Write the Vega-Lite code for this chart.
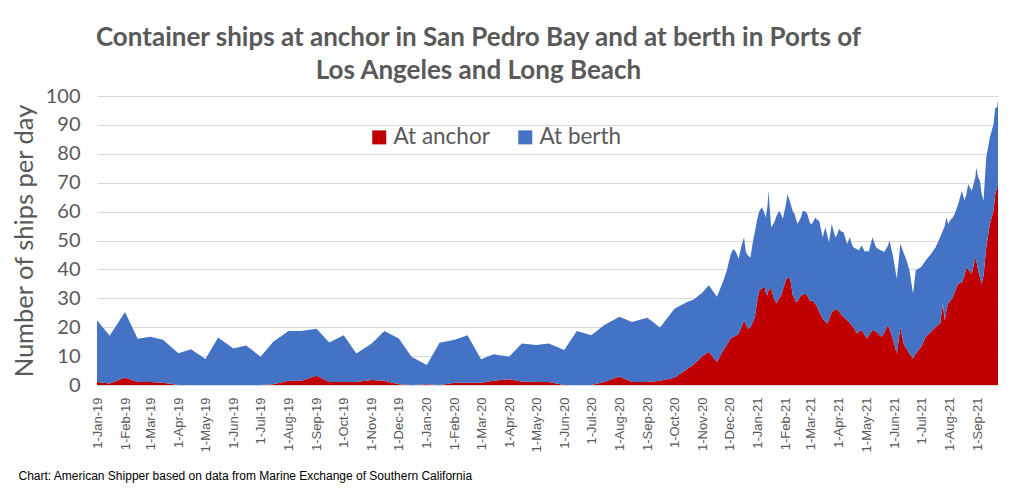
{
  "$schema": "https://vega.github.io/schema/vega-lite/v6.json",
  "width": 901,
  "height": 289,
  "autosize": {"type": "none"},
  "padding": {"left": 97, "top": 96, "right": 26, "bottom": 104},
  "background": "#ffffff",
  "title": {
    "text": ["Container ships at anchor in San Pedro Bay and at berth in Ports of", "Los Angeles and Long Beach"],
    "font": "Lato",
    "fontSize": 26,
    "fontWeight": "bold",
    "color": "#595959",
    "lineHeight": 33,
    "anchor": "middle",
    "frame": "group",
    "dx": -69,
    "offset": 2
  },
  "data": {
    "values": [
      {"date": "2019-01-01", "At anchor": 1.0, "At berth": 21.4},
      {"date": "2019-01-15", "At anchor": 0.5, "At berth": 16.5},
      {"date": "2019-02-01", "At anchor": 2.6, "At berth": 22.7},
      {"date": "2019-02-15", "At anchor": 1.0, "At berth": 15.0},
      {"date": "2019-03-01", "At anchor": 1.0, "At berth": 15.7},
      {"date": "2019-03-15", "At anchor": 0.8, "At berth": 14.9},
      {"date": "2019-04-01", "At anchor": 0, "At berth": 11.0},
      {"date": "2019-04-15", "At anchor": 0, "At berth": 12.4},
      {"date": "2019-05-01", "At anchor": 0, "At berth": 9.0},
      {"date": "2019-05-15", "At anchor": 0, "At berth": 16.4},
      {"date": "2019-06-01", "At anchor": 0, "At berth": 12.6},
      {"date": "2019-06-15", "At anchor": 0, "At berth": 13.7},
      {"date": "2019-07-01", "At anchor": 0, "At berth": 9.8},
      {"date": "2019-07-15", "At anchor": 0.3, "At berth": 14.7},
      {"date": "2019-08-01", "At anchor": 1.5, "At berth": 17.2},
      {"date": "2019-08-15", "At anchor": 1.5, "At berth": 17.2},
      {"date": "2019-09-01", "At anchor": 3.2, "At berth": 16.3},
      {"date": "2019-09-15", "At anchor": 1.0, "At berth": 13.7},
      {"date": "2019-10-01", "At anchor": 1.0, "At berth": 16.2},
      {"date": "2019-10-15", "At anchor": 1.0, "At berth": 9.9},
      {"date": "2019-11-01", "At anchor": 1.7, "At berth": 12.7},
      {"date": "2019-11-15", "At anchor": 1.5, "At berth": 17.2},
      {"date": "2019-12-01", "At anchor": 0.3, "At berth": 15.8},
      {"date": "2019-12-15", "At anchor": 0, "At berth": 9.8},
      {"date": "2020-01-01", "At anchor": 0.3, "At berth": 6.6},
      {"date": "2020-01-15", "At anchor": 0, "At berth": 14.6},
      {"date": "2020-02-01", "At anchor": 0.8, "At berth": 14.9},
      {"date": "2020-02-15", "At anchor": 0.8, "At berth": 16.4},
      {"date": "2020-03-01", "At anchor": 0.8, "At berth": 8.1},
      {"date": "2020-03-15", "At anchor": 1.5, "At berth": 9.1},
      {"date": "2020-04-01", "At anchor": 2.0, "At berth": 7.8},
      {"date": "2020-04-15", "At anchor": 1.2, "At berth": 13.2},
      {"date": "2020-05-01", "At anchor": 1.0, "At berth": 12.8},
      {"date": "2020-05-15", "At anchor": 1.0, "At berth": 13.4},
      {"date": "2020-06-01", "At anchor": 0, "At berth": 12.1},
      {"date": "2020-06-15", "At anchor": 0, "At berth": 18.7},
      {"date": "2020-07-01", "At anchor": 0, "At berth": 17.2},
      {"date": "2020-07-15", "At anchor": 1.0, "At berth": 19.7},
      {"date": "2020-08-01", "At anchor": 2.9, "At berth": 20.7},
      {"date": "2020-08-15", "At anchor": 1.0, "At berth": 20.8},
      {"date": "2020-09-01", "At anchor": 1.0, "At berth": 22.3},
      {"date": "2020-09-15", "At anchor": 1.5, "At berth": 18.4},
      {"date": "2020-10-01", "At anchor": 2.5, "At berth": 23.9},
      {"date": "2020-10-15", "At anchor": 5.5, "At berth": 23.2},
      {"date": "2020-10-22", "At anchor": 7.0, "At berth": 22.5},
      {"date": "2020-11-01", "At anchor": 10.0, "At berth": 22.0},
      {"date": "2020-11-08", "At anchor": 11.5, "At berth": 23.0},
      {"date": "2020-11-17", "At anchor": 8.0, "At berth": 22.5},
      {"date": "2020-11-24", "At anchor": 12.0, "At berth": 24.0},
      {"date": "2020-11-28", "At anchor": 13.8, "At berth": 25.9},
      {"date": "2020-12-02", "At anchor": 16.0, "At berth": 29.0},
      {"date": "2020-12-05", "At anchor": 16.7, "At berth": 30.4},
      {"date": "2020-12-08", "At anchor": 17.0, "At berth": 29.0},
      {"date": "2020-12-11", "At anchor": 17.8, "At berth": 25.9},
      {"date": "2020-12-14", "At anchor": 20.0, "At berth": 28.0},
      {"date": "2020-12-17", "At anchor": 22.4, "At berth": 28.7},
      {"date": "2020-12-19", "At anchor": 21.0, "At berth": 25.0},
      {"date": "2020-12-21", "At anchor": 19.5, "At berth": 25.5},
      {"date": "2020-12-24", "At anchor": 20.0, "At berth": 24.0},
      {"date": "2020-12-27", "At anchor": 22.0, "At berth": 28.0},
      {"date": "2020-12-29", "At anchor": 23.6, "At berth": 29.4},
      {"date": "2021-01-01", "At anchor": 30.0, "At berth": 28.0},
      {"date": "2021-01-03", "At anchor": 32.8, "At berth": 27.5},
      {"date": "2021-01-06", "At anchor": 33.5, "At berth": 28.0},
      {"date": "2021-01-09", "At anchor": 33.9, "At berth": 25.1},
      {"date": "2021-01-10", "At anchor": 32.0, "At berth": 26.0},
      {"date": "2021-01-12", "At anchor": 31.0, "At berth": 31.0},
      {"date": "2021-01-13", "At anchor": 33.0, "At berth": 34.2},
      {"date": "2021-01-16", "At anchor": 33.3, "At berth": 21.3},
      {"date": "2021-01-19", "At anchor": 30.0, "At berth": 26.0},
      {"date": "2021-01-22", "At anchor": 28.2, "At berth": 30.4},
      {"date": "2021-01-25", "At anchor": 30.0, "At berth": 30.3},
      {"date": "2021-01-27", "At anchor": 31.0, "At berth": 28.0},
      {"date": "2021-01-29", "At anchor": 33.0, "At berth": 24.5},
      {"date": "2021-02-01", "At anchor": 36.0, "At berth": 26.0},
      {"date": "2021-02-03", "At anchor": 37.3, "At berth": 28.8},
      {"date": "2021-02-06", "At anchor": 36.8, "At berth": 26.4},
      {"date": "2021-02-09", "At anchor": 31.0, "At berth": 29.0},
      {"date": "2021-02-11", "At anchor": 30.0, "At berth": 29.2},
      {"date": "2021-02-12", "At anchor": 28.7, "At berth": 29.3},
      {"date": "2021-02-14", "At anchor": 29.0, "At berth": 26.7},
      {"date": "2021-02-18", "At anchor": 31.0, "At berth": 27.0},
      {"date": "2021-02-20", "At anchor": 31.3, "At berth": 29.0},
      {"date": "2021-02-23", "At anchor": 31.6, "At berth": 28.4},
      {"date": "2021-02-25", "At anchor": 31.0, "At berth": 28.2},
      {"date": "2021-02-28", "At anchor": 29.0, "At berth": 27.0},
      {"date": "2021-03-02", "At anchor": 29.3, "At berth": 26.4},
      {"date": "2021-03-06", "At anchor": 28.0, "At berth": 30.0},
      {"date": "2021-03-08", "At anchor": 27.0, "At berth": 30.0},
      {"date": "2021-03-10", "At anchor": 25.5, "At berth": 31.4},
      {"date": "2021-03-14", "At anchor": 23.0, "At berth": 28.1},
      {"date": "2021-03-17", "At anchor": 22.0, "At berth": 32.6},
      {"date": "2021-03-19", "At anchor": 21.3, "At berth": 30.7},
      {"date": "2021-03-21", "At anchor": 22.5, "At berth": 26.9},
      {"date": "2021-03-24", "At anchor": 25.3, "At berth": 30.4},
      {"date": "2021-03-28", "At anchor": 26.0, "At berth": 25.1},
      {"date": "2021-03-30", "At anchor": 26.4, "At berth": 25.6},
      {"date": "2021-04-01", "At anchor": 25.5, "At berth": 28.5},
      {"date": "2021-04-04", "At anchor": 24.1, "At berth": 28.9},
      {"date": "2021-04-06", "At anchor": 23.5, "At berth": 29.4},
      {"date": "2021-04-10", "At anchor": 22.4, "At berth": 26.4},
      {"date": "2021-04-13", "At anchor": 21.5, "At berth": 29.6},
      {"date": "2021-04-15", "At anchor": 20.7, "At berth": 28.3},
      {"date": "2021-04-17", "At anchor": 20.0, "At berth": 27.7},
      {"date": "2021-04-21", "At anchor": 17.8, "At berth": 29.2},
      {"date": "2021-04-23", "At anchor": 18.5, "At berth": 28.1},
      {"date": "2021-04-26", "At anchor": 19.0, "At berth": 29.3},
      {"date": "2021-04-30", "At anchor": 17.0, "At berth": 29.0},
      {"date": "2021-05-02", "At anchor": 16.1, "At berth": 30.4},
      {"date": "2021-05-04", "At anchor": 17.0, "At berth": 29.0},
      {"date": "2021-05-08", "At anchor": 19.0, "At berth": 32.1},
      {"date": "2021-05-12", "At anchor": 18.5, "At berth": 29.2},
      {"date": "2021-05-15", "At anchor": 17.5, "At berth": 29.5},
      {"date": "2021-05-18", "At anchor": 16.7, "At berth": 29.8},
      {"date": "2021-05-21", "At anchor": 18.0, "At berth": 28.0},
      {"date": "2021-05-25", "At anchor": 20.7, "At berth": 27.3},
      {"date": "2021-05-27", "At anchor": 19.5, "At berth": 30.5},
      {"date": "2021-05-31", "At anchor": 15.5, "At berth": 28.8},
      {"date": "2021-06-04", "At anchor": 10.9, "At berth": 25.9},
      {"date": "2021-06-08", "At anchor": 19.9, "At berth": 28.9},
      {"date": "2021-06-12", "At anchor": 13.8, "At berth": 31.6},
      {"date": "2021-06-15", "At anchor": 12.5, "At berth": 30.5},
      {"date": "2021-06-18", "At anchor": 10.9, "At berth": 28.8},
      {"date": "2021-06-22", "At anchor": 9.2, "At berth": 22.4},
      {"date": "2021-06-25", "At anchor": 10.9, "At berth": 28.8},
      {"date": "2021-07-01", "At anchor": 13.2, "At berth": 27.6},
      {"date": "2021-07-06", "At anchor": 16.7, "At berth": 26.4},
      {"date": "2021-07-12", "At anchor": 18.4, "At berth": 27.0},
      {"date": "2021-07-17", "At anchor": 20.1, "At berth": 27.6},
      {"date": "2021-07-22", "At anchor": 21.3, "At berth": 29.8},
      {"date": "2021-07-25", "At anchor": 28.2, "At berth": 25.2},
      {"date": "2021-07-27", "At anchor": 22.4, "At berth": 32.6},
      {"date": "2021-07-29", "At anchor": 26.0, "At berth": 32.0},
      {"date": "2021-07-31", "At anchor": 28.2, "At berth": 27.5},
      {"date": "2021-08-02", "At anchor": 29.0, "At berth": 28.0},
      {"date": "2021-08-05", "At anchor": 30.4, "At berth": 27.6},
      {"date": "2021-08-07", "At anchor": 32.0, "At berth": 27.2},
      {"date": "2021-08-11", "At anchor": 35.0, "At berth": 27.6},
      {"date": "2021-08-15", "At anchor": 35.5, "At berth": 31.7},
      {"date": "2021-08-16", "At anchor": 36.2, "At berth": 29.8},
      {"date": "2021-08-18", "At anchor": 38.0, "At berth": 25.8},
      {"date": "2021-08-20", "At anchor": 40.8, "At berth": 25.2},
      {"date": "2021-08-22", "At anchor": 40.0, "At berth": 29.5},
      {"date": "2021-08-26", "At anchor": 38.5, "At berth": 28.7},
      {"date": "2021-08-30", "At anchor": 44.3, "At berth": 27.7},
      {"date": "2021-08-31", "At anchor": 43.0, "At berth": 32.3},
      {"date": "2021-09-02", "At anchor": 39.7, "At berth": 32.3},
      {"date": "2021-09-04", "At anchor": 37.3, "At berth": 33.4},
      {"date": "2021-09-06", "At anchor": 35.0, "At berth": 31.0},
      {"date": "2021-09-08", "At anchor": 38.0, "At berth": 25.8},
      {"date": "2021-09-11", "At anchor": 47.7, "At berth": 31.0},
      {"date": "2021-09-15", "At anchor": 55.7, "At berth": 29.9},
      {"date": "2021-09-19", "At anchor": 60.3, "At berth": 29.9},
      {"date": "2021-09-21", "At anchor": 66.0, "At berth": 29.9},
      {"date": "2021-09-23", "At anchor": 68.4, "At berth": 27.6},
      {"date": "2021-09-24", "At anchor": 70.0, "At berth": 29.0}
    ]
  },
  "transform": [
    {"fold": ["At anchor", "At berth"], "as": ["series", "ships"]}
  ],
  "mark": {"type": "area", "interpolate": "linear", "opacity": 1},
  "encoding": {
    "x": {
      "field": "date",
      "type": "temporal",
      "scale": {"type": "utc", "nice": false},
      "axis": {
        "format": "%-d-%b-%y",
        "tickCount": {"interval": "month", "step": 1},
        "labelAngle": 270,
        "labelFont": "Liberation Sans",
        "labelFontSize": 13,
        "labelColor": "#595959",
        "labelPadding": 12,
        "labelOverlap": false,
        "labelFlush": false,
        "ticks": false,
        "grid": false,
        "domain": true,
        "domainColor": "#d9d9d9",
        "title": "Chart: American Shipper based on data from Marine Exchange of Southern California",
        "titleFont": "Liberation Sans",
        "titleFontSize": 12,
        "titleFontWeight": "normal",
        "titleColor": "#000000",
        "titleAlign": "left",
        "titleAnchor": "start",
        "titleBaseline": "alphabetic",
        "titleX": -79,
        "titleY": 94
      }
    },
    "y": {
      "field": "ships",
      "type": "quantitative",
      "stack": "zero",
      "scale": {"domain": [0, 100], "nice": false},
      "axis": {
        "values": [0, 10, 20, 30, 40, 50, 60, 70, 80, 90, 100],
        "labelFont": "Lato",
        "labelFontSize": 20,
        "labelColor": "#595959",
        "labelPadding": 17,
        "ticks": false,
        "domain": false,
        "grid": true,
        "gridColor": "#d9d9d9",
        "gridWidth": 1,
        "title": "Number of ships per day",
        "titleFont": "Lato",
        "titleFontSize": 25.5,
        "titleFontWeight": "normal",
        "titleColor": "#595959",
        "titlePadding": 8
      }
    },
    "color": {
      "field": "series",
      "type": "nominal",
      "scale": {"domain": ["At anchor", "At berth"], "range": ["#C00000", "#4472C4"]},
      "legend": {
        "title": null,
        "orient": "none",
        "direction": "horizontal",
        "legendX": 271,
        "legendY": 30,
        "symbolType": "square",
        "symbolSize": 196,
        "symbolStrokeWidth": 0,
        "symbolOpacity": 1,
        "labelFont": "Lato",
        "labelFontSize": 22.5,
        "labelColor": "#595959",
        "labelOffset": 3,
        "columnPadding": 24
      }
    },
    "order": {"field": "series", "sort": "ascending"}
  },
  "config": {"view": {"stroke": null}}
}
